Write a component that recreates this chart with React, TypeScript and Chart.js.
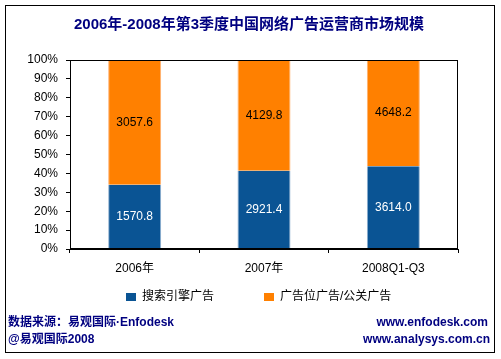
import React, { useEffect, useRef } from "react";
import { Chart, registerables } from "chart.js";

Chart.register(...registerables);

const categories = ["2006年", "2007年", "2008Q1-Q3"];
const searchAds = [1570.8, 2921.4, 3614.0];
const displayAds = [3057.6, 4129.8, 4648.2];
const yTicks = [0, 10, 20, 30, 40, 50, 60, 70, 80, 90, 100];
const seriesNames = ["搜索引擎广告", "广告位广告/公关广告"];
const title = "2006年-2008年第3季度中国网络广告运营商市场规模";
const footerLeft = ["数据来源：易观国际·Enfodesk", "@易观国际2008"];
const footerRight = ["www.enfodesk.com", "www.analysys.com.cn"];

const BLUE = "#0A5494";
const ORANGE = "#FF8000";
const NAVY = "#000080";
const FONT = "'Liberation Sans', Arial, 'Noto Sans CJK SC', sans-serif";

const totals = searchAds.map((v, i) => v + displayAds[i]);
const searchPct = searchAds.map((v, i) => (v / totals[i]) * 100);
const displayPct = displayAds.map((v, i) => (v / totals[i]) * 100);

export default function App() {
  const ref = useRef<HTMLCanvasElement | null>(null);

  useEffect(() => {
    const canvas = ref.current!;
    const decor = {
      id: "decor",
      beforeDraw(chart: any) {
        const ctx = chart.ctx;
        ctx.save();
        ctx.fillStyle = "#ffffff";
        ctx.fillRect(0, 0, chart.width, chart.height);
        ctx.restore();
      },
      afterDraw(chart: any) {
        const ctx = chart.ctx;
        const ca = chart.chartArea;
        ctx.save();
        ctx.strokeStyle = "#000000";
        ctx.lineWidth = 1;
        ctx.strokeRect(Math.round(ca.left) + 0.5, Math.round(ca.top) + 0.5, Math.round(ca.right - ca.left) - 1, Math.round(ca.bottom - ca.top) - 1);
        ctx.strokeRect(5.5, 5.5, 489, 347);
        ctx.fillStyle = NAVY;
        ctx.font = `bold 15px ${FONT}`;
        ctx.textAlign = "center";
        ctx.textBaseline = "middle";
        ctx.fillText(title, 249, 25);
        ctx.font = `12px ${FONT}`;
        const m0 = chart.getDatasetMeta(0);
        const m1 = chart.getDatasetMeta(1);
        m0.data.forEach((bar: any, i: number) => {
          ctx.fillStyle = "#ffffff";
          ctx.fillText(searchAds[i].toFixed(1), bar.x, (bar.y + bar.base) / 2);
        });
        m1.data.forEach((bar: any, i: number) => {
          ctx.fillStyle = "#000000";
          ctx.fillText(displayAds[i].toFixed(1), bar.x, (bar.y + bar.base) / 2);
        });
        const legend = [
          { x: 126, color: BLUE, text: seriesNames[0] },
          { x: 264, color: ORANGE, text: seriesNames[1] },
        ];
        ctx.textAlign = "left";
        legend.forEach((l) => {
          ctx.fillStyle = l.color;
          ctx.fillRect(l.x, 293, 10, 8);
          ctx.fillStyle = "#000000";
          ctx.fillText(l.text, l.x + 16, 297);
        });
        ctx.font = `bold 12px ${FONT}`;
        ctx.fillStyle = NAVY;
        ctx.fillText(footerLeft[0], 8, 323);
        ctx.fillText(footerLeft[1], 8, 340);
        ctx.textAlign = "right";
        ctx.fillText(footerRight[0], 488, 323);
        ctx.fillText(footerRight[1], 490, 340);
        ctx.restore();
      },
    };

    const common = {
      categoryPercentage: 1,
      barPercentage: 0.41,
      borderWidth: { left: 1, right: 1, top: 0, bottom: 0 },
      borderSkipped: false,
    };

    const chart = new Chart(canvas, {
      type: "bar",
      data: {
        labels: categories,
        datasets: [
          {
            label: seriesNames[0],
            data: searchPct,
            backgroundColor: BLUE,
            borderColor: "#8fb0d0",
            ...common,
          } as any,
          {
            label: seriesNames[1],
            data: displayPct,
            backgroundColor: ORANGE,
            borderColor: "#ffb070",
            ...common,
          } as any,
        ],
      },
      options: {
        responsive: false,
        animation: false,
        events: [],
        layout: { padding: { left: 8, right: 43, top: 60, bottom: 80 } },
        plugins: {
          legend: { display: false },
          title: { display: false },
          tooltip: { enabled: false },
        },
        scales: {
          x: {
            stacked: true,
            grid: {
              offset: true,
              drawOnChartArea: false,
              color: "#000000",
              tickLength: 4,
            },
            border: { color: "#000000" },
            ticks: { color: "#000000", font: { family: FONT, size: 12 }, padding: 8 },
            afterFit: (s: any) => {
              s.height = 30;
            },
          } as any,
          y: {
            stacked: true,
            min: 0,
            max: 100,
            afterBuildTicks: (s: any) => {
              s.ticks = yTicks.map((v) => ({ value: v }));
            },
            grid: {
              drawOnChartArea: false,
              color: "#000000",
              tickLength: 4,
            },
            border: { color: "#000000" },
            ticks: {
              color: "#000000",
              font: { family: FONT, size: 12 },
              padding: 8,
              callback: (v: any) => `${v}%`,
            },
            afterFit: (s: any) => {
              s.width = 62;
            },
          } as any,
        },
      },
      plugins: [decor],
    });
    return () => chart.destroy();
  }, []);

  return (
    <div style={{ position: "fixed", left: 0, top: 0, width: 501, height: 359 }}>
      <canvas ref={ref} width={501} height={359} style={{ width: 501, height: 359, display: "block" }} />
    </div>
  );
}
